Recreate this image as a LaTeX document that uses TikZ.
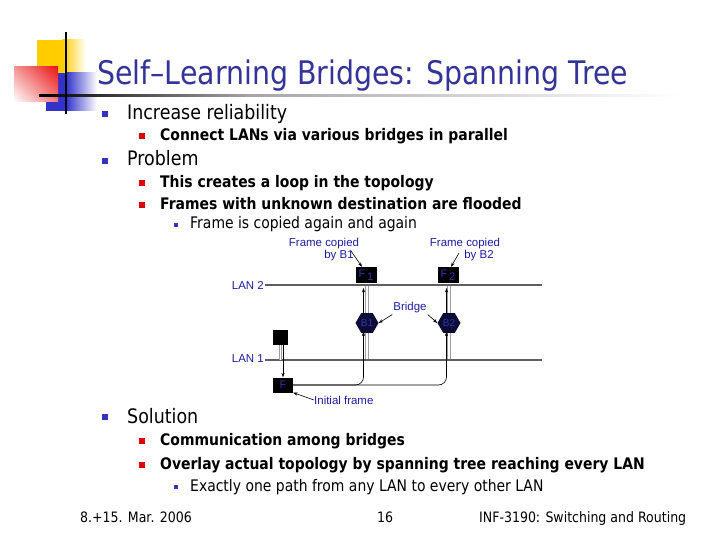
\documentclass[tikz,border=0pt]{standalone}
\usepackage{fontspec}
\setmainfont{DejaVu Sans}[FakeStretch=0.875]
\newfontfamily\labfont{Liberation Sans}
\usetikzlibrary{shapes.geometric,arrows.meta,shadings}
\definecolor{titleblue}{RGB}{51,51,153}
\definecolor{bulblue}{RGB}{51,51,187}
\definecolor{bulred}{RGB}{221,0,0}
\definecolor{labblue}{RGB}{30,30,160}
\definecolor{hexfill}{RGB}{12,12,55}
\definecolor{hextext}{RGB}{50,50,170}
\definecolor{lanline}{RGB}{95,95,95}
\definecolor{logoyellow}{RGB}{255,204,0}
\definecolor{logored}{RGB}{235,20,20}
\definecolor{logopink}{RGB}{245,150,150}
\definecolor{logoblue}{RGB}{51,51,204}
\begin{document}
\begin{tikzpicture}[x=1bp,y=-1bp,
  lvlone/.style={anchor=base west,inner sep=0,font=\fontsize{20}{24}\selectfont},
  lvltwo/.style={anchor=base west,inner sep=0,font=\bfseries\fontsize{16}{19}\selectfont},
  lvlthree/.style={anchor=base west,inner sep=0,font=\fontsize{16}{19}\selectfont},
  bulone/.style={fill=bulblue,inner sep=0,minimum size=6.5bp},
  bultwo/.style={fill=bulred,inner sep=0,minimum size=6bp},
  bulthree/.style={fill=bulblue,inner sep=0,minimum size=4bp},
  foot/.style={anchor=base west,inner sep=0,font=\fontsize{14.4}{16}\selectfont},
  lab/.style={inner sep=0,text=labblue,font=\labfont\fontsize{11.5}{13}\selectfont},
  lan/.style={draw=lanline,line width=1.5bp},
  dbl/.style={draw=gray!75,line width=0.9bp,double=white,double distance=1.6bp},
  arr/.style={draw=black,line width=0.6bp,-{Stealth[length=4.5bp,width=3.2bp]}},
  frm/.style={fill=black,inner sep=0,text=hextext,font=\labfont\fontsize{11}{12}\selectfont},
  bridge/.style={regular polygon,regular polygon sides=6,fill=hexfill,inner sep=0,
     minimum size=23bp,text=hextext,font=\labfont\fontsize{10}{11}\selectfont}
]
\useasboundingbox (0,0) rectangle (720,540);
\fill[white] (0,0) rectangle (720,540);

% logo
\fill[logoyellow] (37,40) rectangle (62,73);
\shade[left color=logoyellow,right color=white] (62,40) rectangle (86,73);
\fill[logoblue] (46,73) rectangle (66,111);
\shade[left color=logoblue,right color=white] (66,73) rectangle (97,111);
\shade[upper left=logopink,upper right=logored,lower left=white,lower right=logopink!80!logored] (14,67) rectangle (58,102);
\shade[left color=black,right color=gray!70] (39,94.3) rectangle (250,96.8);
\shade[left color=gray!70,right color=white] (250,94.3) rectangle (680,96.8);
\fill[black] (64.8,32) rectangle (67.2,114);

% title
\node[anchor=base west,inner sep=0,text=titleblue,font=\fontsize{32.6}{36}\selectfont] (title) at (97,85) {Self–Learning Bridges: Spanning Tree};

% bullets and text
\node[bulone] (b1a) at (105,114) {};
\node[lvlone] (t1a) at (127,120) {Increase reliability};
\node[bultwo] (b2a) at (142,136) {};
\node[lvltwo] (t2a) at (160,141) {Connect LANs via various bridges in parallel};
\node[bulone] (b1b) at (105,161) {};
\node[lvlone] (t1b) at (127,166) {Problem};
\node[bultwo] (b2b) at (142,183) {};
\node[lvltwo] (t2b) at (160,187.5) {This creates a loop in the topology};
\node[bultwo] (b2c) at (142,205) {};
\node[lvltwo] (t2c) at (160,209.5) {Frames with unknown destination are flooded};
\node[bulthree] (b3a) at (176,225) {};
\node[lvlthree] (t3a) at (190,229) {Frame is copied again and again};

\node[bulone] (b1c) at (105,417) {};
\node[lvlone] (t1c) at (127,423) {Solution};
\node[bultwo] (b2d) at (142,441) {};
\node[lvltwo] (t2d) at (160,445.5) {Communication among bridges};
\node[bultwo] (b2e) at (142,465) {};
\node[lvltwo] (t2e) at (160,469.5) {Overlay actual topology by spanning tree reaching every LAN};
\node[bulthree] (b3b) at (176,487) {};
\node[lvlthree] (t3b) at (190,491) {Exactly one path from any LAN to every other LAN};

% footer
\node[foot] (fdate) at (80,522) {8.+15. Mar. 2006};
\node[foot,anchor=base] (fnum) at (385,522) {16};
\node[foot] (fcourse) at (479,522) {INF-3190: Switching and Routing};

% diagram
\coordinate (l2a) at (265,285); \coordinate (l2b) at (542,285);
\coordinate (l1a) at (265,360); \coordinate (l1b) at (542,360);
\node[lab,anchor=east] (l2lab) at (264,285) {LAN 2};
\node[lab,anchor=east] (l1lab) at (264,359) {LAN 1};

\node[bridge] (br1) at (367,323) {B1};
\node[bridge] (br2) at (449,323) {B2};

\draw[dbl] (br1.north) -- (br1.north |- l2a);
\draw[dbl] (br1.south) -- (br1.south |- l1a);
\draw[dbl] (br2.north) -- (br2.north |- l2a);
\draw[dbl] (br2.south) -- (br2.south |- l1a);

\draw[lan] (l2a) -- (l2b);
\draw[lan] (l1a) -- (l1b);

\node[frm,minimum width=21bp,minimum height=16bp] (fr1) at (366,275) {F\,\raisebox{-2.5bp}{1}};
\node[frm,minimum width=21bp,minimum height=16bp] (fr2) at (448,275) {F\,\raisebox{-2.5bp}{2}};
\node[frm,minimum size=15bp] (src) at (280.5,337.5) {};
\node[frm,minimum width=20bp,minimum height=15bp] (fr0) at (283,385) {F};

\draw[dbl] (src.south) -- (src.south |- l1a);
\draw[arr] ([xshift=2.5bp]src.south) -- ([xshift=2.5bp]src.south |- fr0.north);

\draw[arr] ([xshift=-3.5bp]br1.north) -- ([xshift=-3.5bp,yshift=-3bp]br1.north |- l2a);
\draw[arr] ([xshift=-2.5bp]br2.north) -- ([xshift=-2.5bp,yshift=-3bp]br2.north |- l2a);
\draw[arr,rounded corners=8bp] (fr0.east) -| ([xshift=-3.5bp,yshift=1.5bp]br1.south);
\draw[arr,rounded corners=8bp] (fr0.east) -| ([xshift=-2.5bp,yshift=1.5bp]br2.south);

\node[lab] (cp1a) at (324,244) {Frame copied};
\node[lab] (cp1b) at (339,256) {by B1};
\node[lab] (cp2a) at (465,244) {Frame copied};
\node[lab] (cp2b) at (479,256) {by B2};
\coordinate (cp1s) at (351,251);
\coordinate (cp2s) at (459,253);
\draw[arr] (cp1s) -- ([xshift=-4bp]fr1.north);
\draw[arr] (cp2s) -- ([xshift=3bp]fr2.north);

\node[lab] (brl) at (410,308) {Bridge};
\draw[arr] ([xshift=-1bp,yshift=-1bp]brl.south west) -- (br1.east);
\draw[arr] ([xshift=1bp,yshift=-1bp]brl.south east) -- (br2.west);

\node[lab,anchor=west] (ini) at (314,400) {Initial frame};
\draw[arr] (ini.west) -- (fr0.south east);
\end{tikzpicture}
\end{document}
